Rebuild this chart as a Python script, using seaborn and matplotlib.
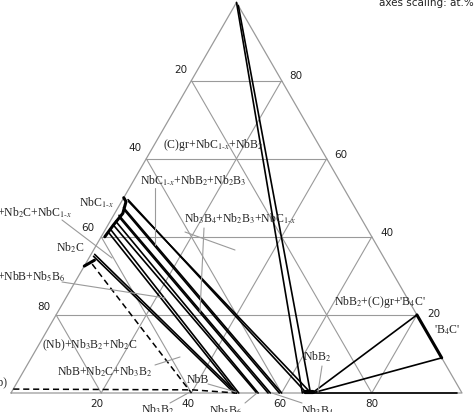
import numpy as np
import pandas as pd
import matplotlib
matplotlib.use("Agg")
import matplotlib.pyplot as plt
import seaborn as sns

sns.set_style("white")
plt.rcParams['font.family'] = ['Liberation Serif', 'DejaVu Serif']
plt.rcParams['mathtext.fontset'] = 'stix'

# compositions as (B fraction, C fraction)
tie_start_b = [0.012, 0.016, 0.012, 0.015, 0.012, 0.015, 0.012, 0.012, 0.010, 0.012, 0.008, 0.008]
tie_start_c = [0.495, 0.49, 0.475, 0.47, 0.455, 0.45, 0.44, 0.43, 0.42, 0.41, 0.355, 0.35]
tie_end_b = [0.655, 0.665, 0.60, 0.595, 0.575, 0.57, 0.548, 0.545, 0.505, 0.50, 0.50, 0.495]
tie_end_c = [0.0] * 12
nbc_edge_b = [0.0, 0.01, 0.018, 0.012, 0.008]
nbc_edge_c = [0.50, 0.49, 0.46, 0.43, 0.40]
nbb2_b = [0.65, 0.668]
c_apex_b = [0.0, 0.008]
c_apex_c = [1.0, 0.992]
b4c_b = [0.80, 0.91]
b4c_c = [0.20, 0.09]
b_corner = (0.99, 0.0)
dashed1_b = [0.0, 0.40, 0.50]
dashed1_c = [0.01, 0.008, 0.0]
dashed2_b = [0.015, 0.40]
dashed2_c = [0.33, 0.0]
grid_vals = [0.2, 0.4, 0.6, 0.8]
tick_labels = ["20", "40", "60", "80"]

S3 = np.sqrt(3) / 2
def T(b, c):
    b = np.asarray(b, float); c = np.asarray(c, float)
    return b + c / 2, c * S3
def P(px, py):
    return (px - 11) / 451, (393 - py) / 451

fig = plt.figure(figsize=(4.74, 4.12), dpi=100)
ax = fig.add_axes([0, 0, 1, 1])
ax.set_xlim(-11 / 451, 463 / 451)
ax.set_ylim(-19 / 451, 393 / 451)
ax.axis("off")

g = "#9a9a9a"
# grid
for v in grid_vals:
    x, y = T([0, 1 - v], [v, v]); ax.plot(x, y, color=g, lw=0.8)
    x, y = T([v, v], [0, 1 - v]); ax.plot(x, y, color=g, lw=0.8)
    x, y = T([1 - v, 0], [0, 1 - v]); ax.plot(x, y, color=g, lw=0.8)
x, y = T([0, 1, 0, 0], [0, 0, 1, 0]); ax.plot(x, y, color=g, lw=0.9)

# tie lines via seaborn
rows = []
for i in range(len(tie_start_b)):
    for bb, cc in [(tie_start_b[i], tie_start_c[i]), (tie_end_b[i], tie_end_c[i])]:
        xx, yy = T(bb, cc); rows.append(dict(id=i, x=float(xx), y=float(yy)))
for k, (bb, cc) in enumerate([(c_apex_b[0], c_apex_c[0]), (c_apex_b[1], c_apex_c[1])]):
    for pb, pc in [(bb, cc), (nbb2_b[k] - 0.004, 0.0)]:
        xx, yy = T(pb, pc); rows.append(dict(id=100 + k, x=float(xx), y=float(yy)))
for k, (pb, pc) in enumerate([(b4c_b[0], b4c_c[0]), (b4c_b[1], b4c_c[1]), b_corner]):
    for qb, qc in [(nbb2_b[1], 0.0), (pb, pc)]:
        xx, yy = T(qb, qc); rows.append(dict(id=200 + k, x=float(xx), y=float(yy)))
df = pd.DataFrame(rows)
sns.lineplot(data=df, x="x", y="y", units="id", estimator=None, sort=False,
             color="black", lw=1.2, ax=ax, legend=False)

x, y = T(nbc_edge_b, nbc_edge_c); ax.plot(x, y, color="black", lw=2.2)
x, y = T(nbb2_b, [0.002, 0.002]); ax.plot(x, y, color="black", lw=3)
x, y = T(b4c_b, b4c_c); ax.plot(x, y, color="black", lw=2.2)
x, y = T([0.015, 0.0], [0.34, 0.325]); ax.plot(x, y, color="black", lw=2.2)
x, y = T(dashed1_b, dashed1_c); ax.plot(x, y, color="black", lw=1.1, ls=(0, (4, 2.5)))
x, y = T(dashed2_b, dashed2_c); ax.plot(x, y, color="black", lw=1.1, ls=(0, (4, 2.5)))

# leaders
leaders = [((155, 188), (155, 245)), ((204, 228), (200, 312)), ((62, 220), (112, 258)),
           ((62, 282), (165, 298)), ((155, 365), (180, 357)), ((208, 384), (236, 392)),
           ((322, 366), (318, 392)), ((170, 403), (190, 392)), ((245, 403), (257, 393)),
           ((302, 403), (272, 393)), ((185, 232), (235, 250))]
for a, b in leaders:
    (x1, y1), (x2, y2) = P(*a), P(*b)
    ax.plot([x1, x2], [y1, y2], color=g, lw=0.8)

# tick labels
tkw = dict(family="DejaVu Sans", fontsize=7.5, color="#222222", ha="center", va="center")
for t, p in zip(tick_labels, [(181, 70), (135, 148), (88, 228), (44, 307)]):
    ax.text(*P(*p), t, **tkw)
for t, p in zip(tick_labels[::-1], [(296, 76), (341, 155), (387, 233), (434, 314)]):
    ax.text(*P(*p), t, **tkw)
for t, p in zip(tick_labels, [(97, 404), (188, 404), (280, 404), (372, 404)]):
    ax.text(*P(*p), t, **tkw)
ax.text(*P(474, 3), "axes scaling: at.%", family="DejaVu Sans", fontsize=7.5,
        ha="right", va="center", color="#222222")

lk = dict(fontsize=8.5, ha="center", va="center")
labels = [
    ((213, 145), r"(C)gr+NbC$_{1\text{-}x}$+NbB$_2$"),
    ((193, 181), r"NbC$_{1\text{-}x}$+NbB$_2$+Nb$_2$B$_3$"),
    ((240, 219), r"Nb$_3$B$_4$+Nb$_2$B$_3$+NbC$_{1\text{-}x}$"),
    ((96, 203), r"NbC$_{1\text{-}x}$"),
    ((70, 248), r"Nb$_2$C"),
    ((90, 345), r"(Nb)+Nb$_3$B$_2$+Nb$_2$C"),
    ((105, 372), r"NbB+Nb$_2$C+Nb$_3$B$_2$"),
    ((198, 380), r"NbB"),
    ((380, 302), r"NbB$_2$+(C)gr+'B$_4$C'"),
    ((317, 357), r"NbB$_2$"),
    ((447, 330), r"'B$_4$C'"),
    ((158, 410), r"Nb$_3$B$_2$"),
    ((226, 411), r"Nb$_5$B$_6$"),
    ((318, 411), r"Nb$_3$B$_4$"),
]
for p, t in labels:
    ax.text(*P(*p), t, **lk)
ax.text(*P(-3, 213), r"(C)gr+Nb$_2$C+NbC$_{1\text{-}x}$"[0:0] + r"+Nb$_2$C+NbC$_{1\text{-}x}$", fontsize=8.5, ha="left", va="center")
ax.text(*P(-3, 277), r"+NbB+Nb$_5$B$_6$", fontsize=8.5, ha="left", va="center")
ax.text(*P(8, 382), r"(Nb)", fontsize=8.5, ha="right", va="center")

fig.savefig("out.png", dpi=100)
